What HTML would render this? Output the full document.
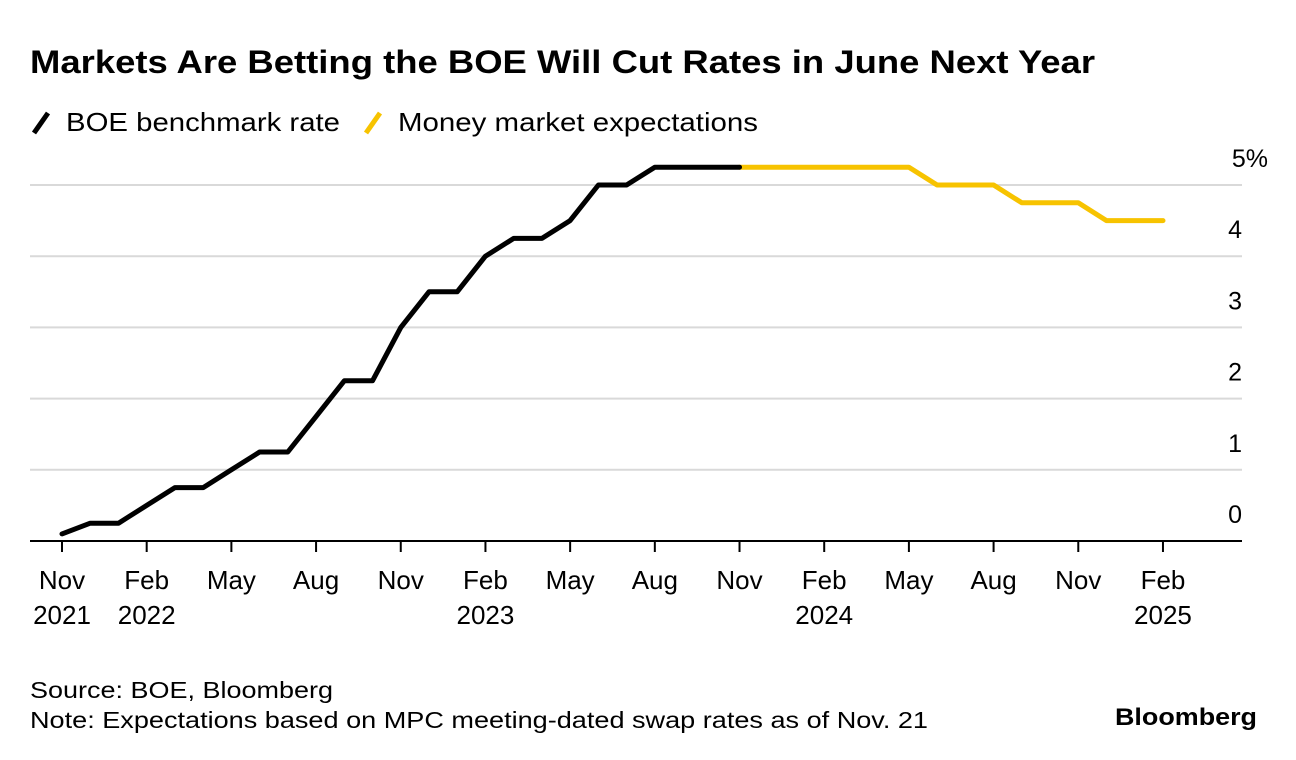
<!DOCTYPE html>
<html><head><meta charset="utf-8"><style>
body{margin:0;width:1296px;height:760px;background:#fff;font-family:"Liberation Sans",Arial,sans-serif;color:#000;overflow:hidden}
</style></head><body>
<svg width="1296" height="760" style="position:absolute;left:0;top:0">
<text x="30" y="73" font-size="32" font-weight="bold" textLength="1065" lengthAdjust="spacingAndGlyphs">Markets Are Betting the BOE Will Cut Rates in June Next Year</text>
<g>
<line x1="34" y1="133" x2="48" y2="113" stroke="#000" stroke-width="5"/>
<text x="66" y="131" font-size="26" textLength="274" lengthAdjust="spacingAndGlyphs">BOE benchmark rate</text>
<line x1="366" y1="133" x2="380" y2="113" stroke="#f7c300" stroke-width="5"/>
<text x="398" y="131" font-size="26" textLength="360" lengthAdjust="spacingAndGlyphs">Money market expectations</text>
</g>
<g id="grid"></g><g id="xaxis"></g><g id="series"></g>
<text x="30" y="698" font-size="23" textLength="303" lengthAdjust="spacingAndGlyphs">Source: BOE, Bloomberg</text>
<text x="30" y="728" font-size="23" textLength="898" lengthAdjust="spacingAndGlyphs">Note: Expectations based on MPC meeting-dated swap rates as of Nov. 21</text>
<text x="1115" y="725" font-size="24" font-weight="bold" textLength="142" lengthAdjust="spacingAndGlyphs">Bloomberg</text>
</svg>
<script>
const yTicks=[0,1,2,3,4,5];
const yLabels=["0","1","2","3","4","5%"];
const xTickMonths=[0,3,6,9,12,15,18,21,24,27,30,33,36,39];
const xTickLabels=[["Nov","2021"],["Feb","2022"],["May",""],["Aug",""],["Nov",""],["Feb","2023"],["May",""],["Aug",""],["Nov",""],["Feb","2024"],["May",""],["Aug",""],["Nov",""],["Feb","2025"]];
const boeMonths=[0,1,2,3,4,5,6,7,8,9,10,11,12,13,14,15,16,17,18,19,20,21,22,23,24];
const boeValues=[0.1,0.25,0.25,0.5,0.75,0.75,1.0,1.25,1.25,1.75,2.25,2.25,3.0,3.5,3.5,4.0,4.25,4.25,4.5,5.0,5.0,5.25,5.25,5.25,5.25];
const mktMonths=[24,25,26,27,28,29,30,31,32,33,34,35,36,37,38,39];
const mktValues=[5.25,5.25,5.25,5.25,5.25,5.25,5.25,5.0,5.0,5.0,4.75,4.75,4.75,4.5,4.5,4.5];
const NS="http://www.w3.org/2000/svg";
const x=m=>62+m*28.23;
const y=v=>541-v*71.2;
function mk(t,a,p){const e=document.createElementNS(NS,t);for(const k in a)e.setAttribute(k,a[k]);p.appendChild(e);return e;}
const grid=document.getElementById('grid');
yTicks.forEach((v,i)=>{
 if(v>0){const l=mk('line',{x1:30,x2:1242,y1:y(v),y2:y(v),stroke:'#d9d9d9','stroke-width':2},grid);
 
 }
 const t=mk('text',{x:1242,y:y(v)-18,'font-size':25,'text-anchor':'end'},grid);t.textContent=yLabels[i];
 if(v===5)t.setAttribute('x',1268);
 
 
});
const xa=document.getElementById('xaxis');
const base=mk('line',{x1:30,x2:1242,y1:541,y2:541,stroke:'#000','stroke-width':2},xa);


xTickMonths.forEach((m,i)=>{
 const l=mk('line',{x1:x(m),x2:x(m),y1:541,y2:552,stroke:'#000','stroke-width':2},xa);
 
 
 xTickLabels[i].forEach((s,j)=>{if(!s)return;
  const t=mk('text',{x:x(m),y:589+j*35,'font-size':26,'text-anchor':'middle'},xa);t.textContent=s;
  
  });
});
const sg=document.getElementById('series');
function line(ms,vs,col,name){
 const d=ms.map((m,i)=>(i?'L':'M')+x(m).toFixed(1)+','+y(vs[i]).toFixed(1)).join(' ');
 const p=mk('path',{d:d,fill:'none',stroke:col,'stroke-width':5,'stroke-linejoin':'round','stroke-linecap':'round'},sg);
 
 
}
line(mktMonths,mktValues,'#f7c300','market-expectations-line');
line(boeMonths,boeValues,'#000','boe-rate-line');
</script>
</body></html>
